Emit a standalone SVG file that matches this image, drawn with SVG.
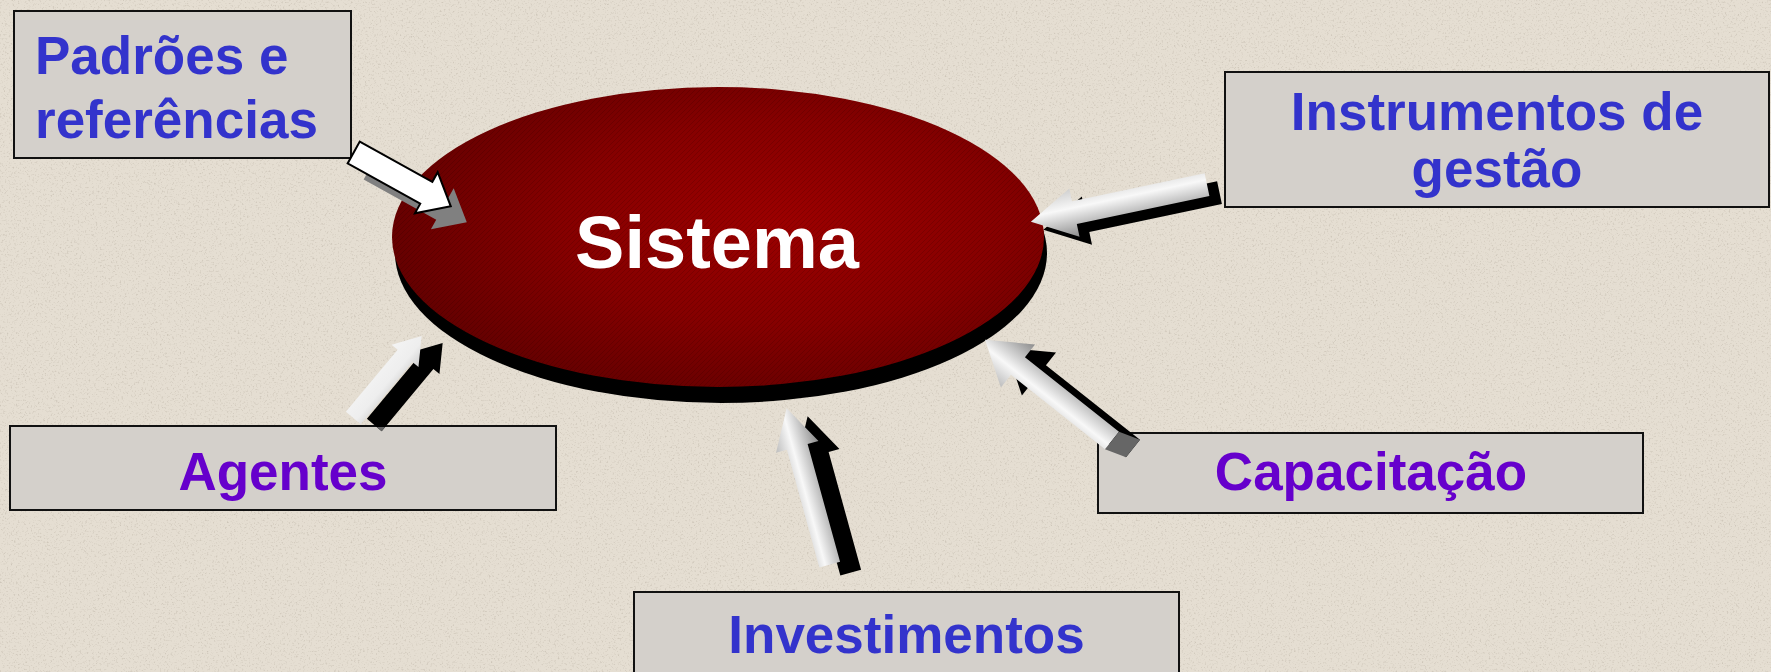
<svg xmlns="http://www.w3.org/2000/svg" width="1771" height="672" viewBox="0 0 1771 672">
  <style>
    .box { fill: #d4d0cb; stroke: #111; stroke-width: 2; }
    .lbl { font-family: "Liberation Sans", Arial, sans-serif; font-weight: bold; font-size: 53px; }
    .blue { fill: #3333cc; }
    .purple { fill: #6600cc; }
    .title { font-family: "Liberation Sans", Arial, sans-serif; font-weight: bold; font-size: 74px; fill: #ffffff; }
    .back { fill: #000; }
  </style>
  <defs>
    <filter id="noise" x="0" y="0" width="100%" height="100%">
      <feTurbulence type="fractalNoise" baseFrequency="0.55" numOctaves="2" seed="7" result="t"/>
      <feColorMatrix in="t" type="matrix" values="0 0 0 0 0.45  0 0 0 0 0.40  0 0 0 0 0.33  3.2 0 0 0 -1.75"/>
    </filter>
    <pattern id="hatch" width="5" height="5" patternUnits="userSpaceOnUse">
      <path d="M-1,1 l2,-2 M0,5 l5,-5 M4,6 l2,-2" stroke="#000" stroke-opacity="0.18" stroke-width="0.8"/>
    </pattern>
    <radialGradient id="redGrad" cx="0.6" cy="0.45" r="0.62">
      <stop offset="0" stop-color="#9c0000"/>
      <stop offset="0.55" stop-color="#860000"/>
      <stop offset="1" stop-color="#640000"/>
    </radialGradient>
    <linearGradient id="gradA" x1="0" y1="0" x2="0" y2="1">
      <stop offset="0" stop-color="#bdbdbd"/>
      <stop offset="0.4" stop-color="#f8f8f8"/>
      <stop offset="1" stop-color="#8c8c8c"/>
    </linearGradient>
    <linearGradient id="gradB" x1="0" y1="0" x2="0" y2="1">
      <stop offset="0" stop-color="#8c8c8c"/>
      <stop offset="0.6" stop-color="#f8f8f8"/>
      <stop offset="1" stop-color="#cfcfcf"/>
    </linearGradient>
    <linearGradient id="gradC" x1="0" y1="0" x2="0" y2="1">
      <stop offset="0" stop-color="#f4f4f4"/>
      <stop offset="0.6" stop-color="#eeeeee"/>
      <stop offset="1" stop-color="#cfcfcf"/>
    </linearGradient>
    <clipPath id="agBoxClip"><rect x="10" y="427" width="546" height="83"/></clipPath>
    <polygon id="arrA" points="0,-12.5 83,-12.5 83,-23.5 111,0 83,23.5 83,12.5 0,12.5"/>
    <polygon id="arrB" points="0,-11.6 135.5,-11.6 135.5,-24.7 180,0 135.5,24.7 135.5,11.6 0,11.6"/>
    <polygon id="arrC" points="0,-9.6 80.8,-9.6 80.8,-17.5 106.8,0 80.8,17.5 80.8,9.6 0,9.6"/>
    <polygon id="arrD" points="0,-10.75 122.2,-10.75 122.2,-22 162.2,0 122.2,22 122.2,10.75 0,10.75"/>
    <polygon id="arrE" points="0,-11.25 120,-11.25 120,-27.5 162,0 120,27.5 120,11.25 0,11.25"/>
  </defs>

  <rect x="0" y="0" width="1771" height="672" fill="#e5ded2"/>
  <rect x="0" y="0" width="1771" height="672" filter="url(#noise)" opacity="0.45"/>

  <g id="node-padroes">
    <rect class="box" x="14" y="11" width="337" height="147"/>
    <text class="lbl blue" x="35" y="74">Padrões e</text>
    <text class="lbl blue" x="35" y="138">referências</text>
  </g>

  <g id="node-instrumentos">
    <rect class="box" x="1225" y="72" width="544" height="135"/>
    <text class="lbl blue" x="1497" y="130" text-anchor="middle">Instrumentos de</text>
    <text class="lbl blue" x="1497" y="187" text-anchor="middle">gestão</text>
  </g>

  <g id="node-agentes">
    <rect class="box" x="10" y="426" width="546" height="84"/>
    <text class="lbl purple" x="283" y="490" text-anchor="middle">Agentes</text>
  </g>

  <g id="node-investimentos">
    <rect class="box" x="634" y="592" width="545" height="120"/>
    <text class="lbl blue" x="906.5" y="653" text-anchor="middle">Investimentos</text>
  </g>

  <g id="node-capacitacao">
    <rect class="box" x="1098" y="433" width="545" height="80"/>
    <text class="lbl purple" x="1371" y="490" text-anchor="middle">Capacitação</text>
  </g>

  <g id="node-sistema">
    <ellipse cx="721" cy="253" rx="326" ry="150" fill="#000"/>
    <ellipse cx="718" cy="237" rx="326" ry="150" fill="url(#redGrad)"/>
    <ellipse cx="718" cy="237" rx="326" ry="150" fill="url(#hatch)"/>
    <text class="title" x="717" y="268" text-anchor="middle">Sistema</text>
  </g>

  <g id="connectors">
    <!-- Padrões e referências -> Sistema -->
    <use href="#arrA" fill="#808080" transform="translate(369.7,168.5) rotate(29)"/>
    <use href="#arrA" fill="#ffffff" stroke="#000" stroke-width="2" stroke-linejoin="miter" transform="translate(353.7,152.5) rotate(29)"/>

    <!-- Instrumentos de gestão -> Sistema -->
    <use href="#arrB" fill="#000" transform="translate(1219.5,192.7) rotate(168.1)"/>
    <use href="#arrB" fill="url(#gradB)" transform="translate(1207,184.7) rotate(168.1)"/>

    <!-- Agentes -> Sistema -->
    <use href="#arrC" fill="#000" transform="translate(374.3,425) rotate(-50.2)"/>
    <g clip-path="url(#agBoxClip)">
      <use href="#arrC" fill="#666" transform="translate(374.3,425) rotate(-50.2)"/>
    </g>
    <use href="#arrC" fill="url(#gradC)" transform="translate(353.3,418) rotate(-50.2)"/>

    <!-- Investimentos -> Sistema -->
    <use href="#arrD" fill="#000" transform="translate(850.7,572.7) rotate(-105.4)"/>
    <use href="#arrD" fill="url(#gradA)" transform="translate(829.7,564.7) rotate(-105.4)"/>

    <!-- Capacitação -> Sistema -->
    <use href="#arrE" fill="#000" transform="translate(1133,448.5) rotate(218.4)"/>
    <use href="#arrE" fill="url(#gradA)" transform="translate(1112,440.5) rotate(218.4)"/>
    <polygon points="1119,431.7 1140,439.7 1126,457.3 1105,449.3" fill="#666"/>
  </g>
</svg>
